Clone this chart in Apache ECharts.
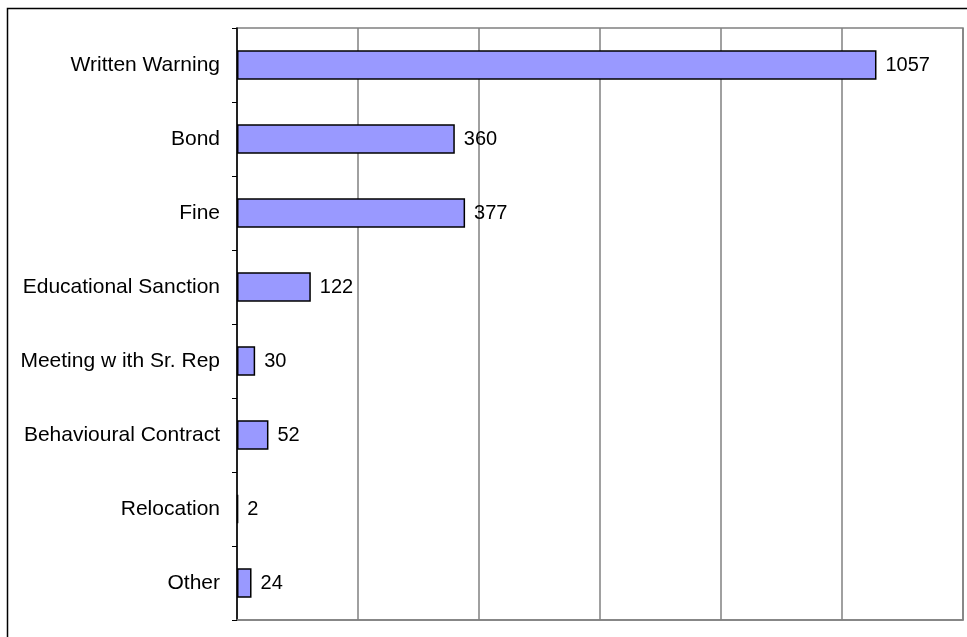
<!DOCTYPE html>
<html>
<head>
<meta charset="utf-8">
<script src="https://cdn.jsdelivr.net/npm/echarts@6/dist/echarts.min.js"></script>
<style>
html,body{margin:0;padding:0;background:#fff;}
#chart{width:967px;height:637px;}
</style>
</head>
<body>
<div id="chart"></div>
<script>
const categories = ["Written Warning","Bond","Fine","Educational Sanction","Meeting w ith Sr. Rep","Behavioural Contract","Relocation","Other"];
const values = [1057,360,377,122,30,52,2,24];
const xTicks = [0,200,400,600,800,1000,1200];

const chart = echarts.init(document.getElementById('chart'));
chart.setOption({
  animation:false,
  backgroundColor:'#ffffff',
  graphic:[{type:'rect',shape:{x:7.5,y:8.5,width:1000,height:700},style:{fill:'none',stroke:'#000',lineWidth:1.5},silent:true,z:-1}],
  grid:{left:237,top:28,right:4,bottom:17,show:true,borderColor:'#808080',borderWidth:1.5,backgroundColor:'transparent'},
  xAxis:{type:'value',min:xTicks[0],max:xTicks[xTicks.length-1],interval:200,
    axisLabel:{show:false},axisTick:{show:false},
    axisLine:{show:true,lineStyle:{color:'#808080',width:1.5}},
    splitLine:{show:true,lineStyle:{color:'#808080',width:1.5}}},
  yAxis:{type:'category',inverse:true,data:categories,
    axisLine:{show:true,lineStyle:{color:'#000',width:1.5}},
    axisTick:{show:true,length:5,inside:false,lineStyle:{color:'#000',width:1}},
    axisLabel:{color:'#000',fontFamily:'Liberation Sans, Arial',fontSize:21,margin:17}},
  series:[{type:'bar',data:values,barCategoryGap:'60%',
    itemStyle:{color:'#9999FF',borderColor:'#000',borderWidth:1.5},
    label:{show:true,position:'right',distance:9,color:'#000',fontFamily:'Liberation Sans, Arial',fontSize:20}}]
});
</script>
</body>
</html>
